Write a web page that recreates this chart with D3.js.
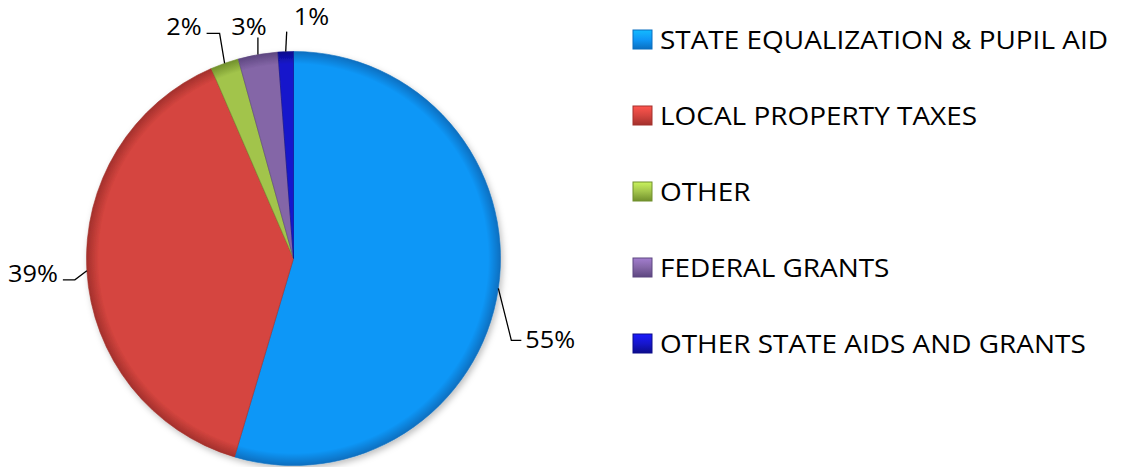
<!DOCTYPE html>
<meta charset="utf-8">
<script src="https://d3js.org/d3.v7.min.js"></script>
<style>
  body { margin: 0; background: #fff; }
  text { font-family: "Open Sans", "Noto Sans", sans-serif; fill: #000; }
</style>
<div id="my_dataviz"></div>
<script>

// data
var categories = ["STATE EQUALIZATION & PUPIL AID", "LOCAL PROPERTY TAXES", "OTHER", "FEDERAL GRANTS", "OTHER STATE AIDS AND GRANTS"];
var values = [54.6, 38.9, 2.2, 3.1, 1.2];
var labels = ["55%", "39%", "2%", "3%", "1%"];
var colors = ["#0f97f7", "#d5453f", "#a2c44b", "#8466a7", "#1616cc"];
var edges = ["#0a6fc0", "#a3302c", "#71902c", "#5d4680", "#0c0c8c"];

var width = 1126, height = 467;
var cx = 293.5, cy = 258.5, radius = 207;

// leader elbow offsets from the slice edge (label placement)
var elbow = [[13, 52], [-12, 9], [-5, -30], [0, -17], [1, -20]];
var tail = [10, -12, -13, 0, 0];

var svg = d3.select("#my_dataviz")
  .append("svg")
    .attr("width", width)
    .attr("height", height);

var defs = svg.append("defs");
var f = defs.append("filter").attr("id", "shadow").attr("x", "-10%").attr("y", "-10%").attr("width", "120%").attr("height", "120%");
f.append("feDropShadow").attr("dx", 2).attr("dy", 3).attr("stdDeviation", 3).attr("flood-color", "#000").attr("flood-opacity", 0.25);

colors.forEach(function(c, i) {
  var rg = defs.append("radialGradient").attr("id", "grad" + i)
    .attr("gradientUnits", "userSpaceOnUse")
    .attr("cx", 0).attr("cy", 0).attr("r", radius);
  rg.append("stop").attr("offset", "0%").attr("stop-color", c);
  rg.append("stop").attr("offset", "94%").attr("stop-color", c);
  rg.append("stop").attr("offset", "100%").attr("stop-color", edges[i]);

  var lg = defs.append("linearGradient").attr("id", "lg" + i).attr("x1", 0).attr("y1", 0).attr("x2", 0).attr("y2", 1);
  lg.append("stop").attr("offset", "0%").attr("stop-color", d3.color(c).brighter(0.6));
  lg.append("stop").attr("offset", "50%").attr("stop-color", c);
  lg.append("stop").attr("offset", "100%").attr("stop-color", edges[i]);
});

var pie = d3.pie().sort(null).value(function(d) { return d; });
var arcs = pie(values);
var arc = d3.arc().innerRadius(0).outerRadius(radius);

var g = svg.append("g").attr("transform", "translate(" + cx + "," + cy + ")");

g.append("g").attr("filter", "url(#shadow)")
  .selectAll("path")
  .data(arcs)
  .enter()
  .append("path")
    .attr("d", arc)
    .style("fill", function(d, i) { return "url(#grad" + i + ")"; })
    .style("stroke", function(d, i) { return edges[i]; })
    .style("stroke-width", 0.6);

// Calibri is wider than its fallback is narrow, so stretch text to match
function stretch(sel, k) {
  sel.each(function() {
    var w = this.getComputedTextLength();
    d3.select(this).attr("textLength", w * k).attr("lengthAdjust", "spacingAndGlyphs");
  });
}

// percent labels with leader lines
arcs.forEach(function(d, i) {
  var a = (d.startAngle + d.endAngle) / 2;
  var x0 = radius * Math.sin(a), y0 = -radius * Math.cos(a);
  var x1 = x0 + elbow[i][0], y1 = y0 + elbow[i][1];
  var x2 = x1 + tail[i];
  g.append("path")
    .attr("d", "M" + x0 + "," + y0 + "L" + x1 + "," + y1 + "L" + x2 + "," + y1)
    .attr("fill", "none")
    .attr("stroke", "#000")
    .attr("stroke-width", 1.3);
  var t = g.append("text").text(labels[i]).style("font-size", "23px");
  if (tail[i] > 0) {
    t.attr("x", x2 + 4).attr("y", y1 + 8).attr("text-anchor", "start");
  } else if (tail[i] < 0) {
    t.attr("x", x2 - 5).attr("y", y1 + 2).attr("text-anchor", "end");
  } else if (i === 3) {
    t.attr("x", x1 - 9).attr("y", y1 - 3).attr("text-anchor", "middle");
  } else {
    t.attr("x", x1 + 7).attr("y", y1 - 7).attr("text-anchor", "start");
  }
  stretch(t, 1.1);
});

// legend
var legend = svg.append("g").attr("transform", "translate(633,0)");
var rowY = d3.scalePoint().domain(categories).range([49, 353]);
var item = legend.selectAll("g.item")
  .data(categories)
  .enter()
  .append("g")
    .attr("class", "item")
    .attr("transform", function(d) { return "translate(0," + rowY(d) + ")"; });
item.append("rect")
  .attr("x", 0).attr("y", -19).attr("width", 19).attr("height", 19)
  .style("fill", function(d, i) { return "url(#lg" + i + ")"; })
  .style("stroke", function(d, i) { return edges[i]; })
  .style("stroke-width", 1);
var lt = item.append("text")
  .attr("x", 27).attr("y", 0)
  .style("font-size", "26px")
  .text(function(d) { return d; });
var first = lt.node().getComputedTextLength();
stretch(lt, 448 / first);

</script>
